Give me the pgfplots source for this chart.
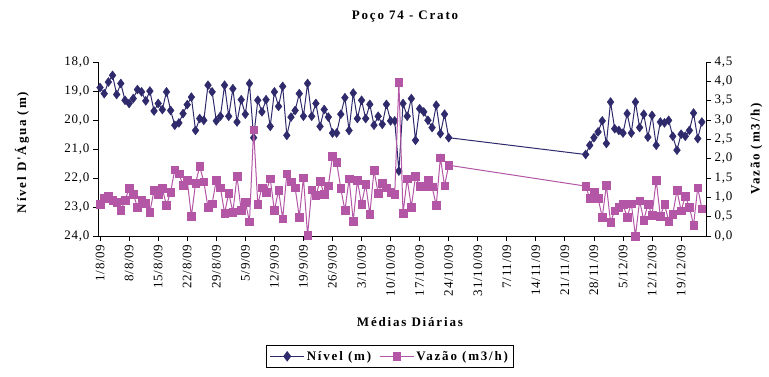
\documentclass[border=0pt]{standalone}
\usepackage{fontspec}
\setmainfont{Liberation Serif}
\newfontfamily\tickfont{Liberation Serif}[LetterSpace=6]
\newfontfamily\labfont{Liberation Serif}[LetterSpace=14]
\usepackage{pgfplots}
\usepackage{pgfplotstable}
\pgfplotsset{compat=1.18}

\definecolor{nivel}{RGB}{46,42,107}
\definecolor{vazao}{RGB}{179,86,166}

% dia (0 = 1/8/09), nivel (m), vazao (m3/h)
\pgfplotstableread{
d nivel vazao
0 18.88 0.82
1 19.09 0.97
2 18.69 1.03
3 18.46 0.92
4 19.12 0.88
5 18.74 0.66
6 19.32 0.92
7 19.43 1.23
8 19.26 1.08
9 18.95 0.75
10 19.03 0.94
11 19.34 0.85
12 19.00 0.62
13 19.69 1.18
14 19.43 1.08
15 19.64 1.23
16 19.03 0.79
17 19.67 1.14
18 20.18 1.72
19 20.10 1.61
20 19.78 1.31
21 19.47 1.44
22 19.21 0.51
23 20.36 1.36
24 19.95 1.80
25 20.01 1.40
26 18.80 0.75
27 19.03 0.84
28 20.03 1.44
29 19.87 1.25
30 18.80 0.59
31 19.87 1.11
32 18.92 0.62
33 20.07 1.54
34 19.30 0.66
35 19.80 0.88
36 18.74 0.37
37 20.61 2.75
38 19.32 0.82
39 19.72 1.25
40 19.30 1.14
41 20.22 1.48
42 19.03 0.66
43 19.53 1.18
44 18.84 0.45
45 20.53 1.61
46 19.90 1.40
47 19.67 1.25
48 19.09 0.49
49 19.87 1.51
50 18.74 0.02
51 19.87 1.20
52 19.43 1.05
53 20.22 1.42
54 19.64 1.08
55 19.90 1.30
56 20.45 2.06
57 20.45 1.91
58 19.80 1.23
59 19.23 0.66
60 20.36 1.48
61 19.07 0.39
62 19.95 1.44
63 19.32 0.82
64 19.95 1.34
65 19.46 0.56
66 20.18 1.70
67 19.87 1.11
68 20.15 1.37
69 19.46 1.25
70 20.03 1.14
71 20.03 1.08
72 21.76 3.98
73 19.43 0.59
74 19.87 1.48
75 19.26 0.75
76 20.70 1.54
77 19.61 1.29
78 19.72 1.27
79 20.01 1.44
80 20.26 1.27
81 19.49 0.79
82 20.47 2.03
83 19.80 1.30
84 20.61 1.83
117 21.19 1.29
118 20.87 0.97
119 20.61 1.14
120 20.41 0.97
121 20.03 0.49
122 20.81 1.31
123 19.38 0.36
124 20.30 0.65
125 20.36 0.75
126 20.45 0.82
127 19.78 0.49
128 20.45 0.84
129 19.38 0.00
130 20.26 0.91
131 19.80 0.41
132 20.59 0.82
133 19.84 0.54
134 20.87 1.44
135 20.07 0.51
136 20.10 0.82
137 20.01 0.39
138 20.56 0.56
139 21.04 1.18
140 20.49 0.65
141 20.56 1.03
142 20.36 0.75
143 19.76 0.28
144 20.64 1.25
145 20.07 0.71
}\dados

\pgfplotsset{
  base/.style={
    at={(0,0)}, anchor=south west,
    scale only axis, width=608pt, height=174pt,
    xmin=-0.5, xmax=146,
    tick align=outside,
    major tick length=5pt,
    axis line style={-, black, line width=0.8pt},
    every tick/.style={black, line width=0.8pt},
    /pgf/number format/assume math mode=true,
    ticklabel style={font=\tickfont\fontsize{13}{15}\selectfont},
    label style={font=\labfont\bfseries\fontsize{13}{15}\selectfont},
  },
}

\begin{document}
\begin{tikzpicture}
\useasboundingbox (-98pt,-140pt) rectangle (671pt,236pt);
\begin{axis}[
  base,
  ymin=18, ymax=24, y dir=reverse,
  axis x line*=bottom, axis y line*=left,
  xtick={0,7,...,140},
  xticklabels={1/8/09,8/8/09,15/8/09,22/8/09,29/8/09,5/9/09,12/9/09,19/9/09,26/9/09,3/10/09,10/10/09,17/10/09,24/10/09,31/10/09,7/11/09,14/11/09,21/11/09,28/11/09,5/12/09,12/12/09,19/12/09},
  x tick label style={rotate=90, anchor=east},
  ytick={18,19,20,21,22,23,24},
  yticklabel style={/pgf/number format/.cd, fixed, fixed zerofill, precision=1, use comma},
  xlabel={Médias Diárias},
  xlabel style={at={(axis description cs:0.513,-0.494)}, anchor=center},
  ylabel={Nível D'Água (m)},
  ylabel style={at={(axis description cs:-0.125,0.48)}, anchor=center, rotate=0},
  title={Poço 74 - Crato},
  title style={at={(axis description cs:0.505,1.228)}, anchor=center,
    font=\labfont\bfseries\fontsize{13}{15}\selectfont},
]
\addplot[color=nivel, line width=1pt, mark=diamond*, mark size=4.5pt,
  mark options={fill=nivel, draw=nivel, line width=0.4pt}]
  table[x=d, y=nivel] {\dados};
\end{axis}
\begin{axis}[
  base,
  ymin=0, ymax=4.5,
  axis x line=none, axis y line*=right,
  xtick=\empty,
  ytick={0,0.5,1,1.5,2,2.5,3,3.5,4,4.5},
  yticklabel style={/pgf/number format/.cd, fixed, fixed zerofill, precision=1, use comma},
  ylabel={Vazão (m3/h)},
  ylabel style={at={(axis description cs:1.083,0.5)}, anchor=center, rotate=0},
  legend style={at={(axis description cs:0.48,-0.625)}, anchor=north,
    legend columns=2, draw=black, line width=0.6pt, inner ysep=4pt,
    font=\labfont\bfseries\fontsize{13}{15}\selectfont,
    /tikz/every even column/.append style={column sep=6pt}},
  legend image code/.code={
    \draw[mark repeat=2, mark phase=2] plot coordinates {(0cm,0cm) (0.6cm,0cm) (1.2cm,0cm)};},
]
\addlegendimage{color=nivel, line width=1pt, mark=diamond*, mark size=4.5pt,
  mark options={fill=nivel, draw=nivel}}
\addlegendentry{Nível (m)}
\addplot[color=vazao, line width=1pt, mark=square*, mark size=3.8pt,
  mark options={fill=vazao, draw=vazao, line width=0.4pt}]
  table[x=d, y=vazao] {\dados};
\addlegendentry{Vazão (m3/h)}
\end{axis}
\end{tikzpicture}
\end{document}
